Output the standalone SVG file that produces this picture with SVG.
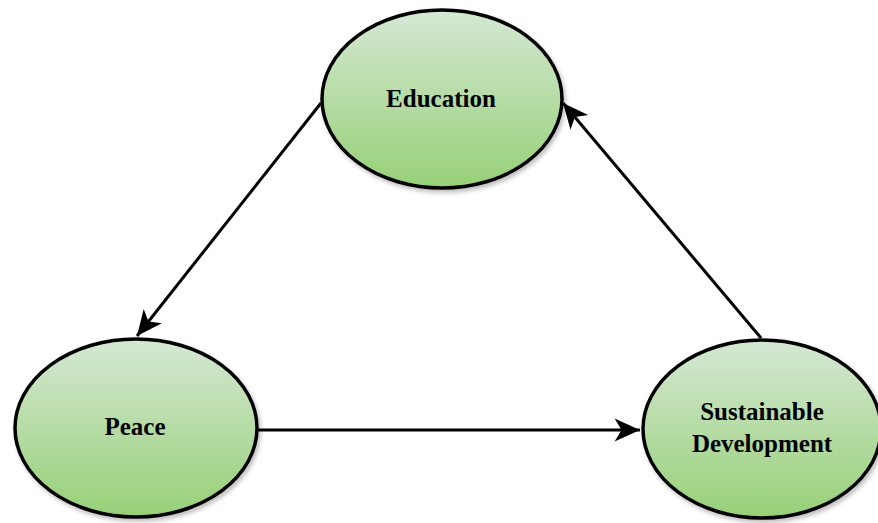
<svg xmlns="http://www.w3.org/2000/svg" width="878" height="523" viewBox="0 0 878 523">
<defs>
<linearGradient id="g" x1="0" y1="0" x2="0" y2="1">
<stop offset="0" stop-color="#d5e8d4"/>
<stop offset="1" stop-color="#97d077"/>
</linearGradient>
<marker id="arr" markerUnits="userSpaceOnUse" markerWidth="30" markerHeight="30" viewBox="-24 -12 26 24" refX="0" refY="0" orient="auto">
<path d="M0,0 L-22,-10 L-16,0 L-22,10 Z" fill="#000"/>
</marker>
<filter id="sh" x="-10%" y="-10%" width="130%" height="130%">
<feDropShadow dx="2" dy="3" stdDeviation="2" flood-color="#000" flood-opacity="0.25"/>
</filter>
</defs>
<style>
.node{fill:url(#g);stroke:#000;stroke-width:3.5;filter:url(#sh)}
.lbl{font-family:"Liberation Serif","Times New Roman",serif;font-weight:bold;font-size:25px;fill:#000;text-anchor:middle}
.edge{stroke:#000;stroke-width:3;fill:none;marker-end:url(#arr)}
</style>
<g id="connectors">
<path class="edge" d="M321,103 L137,336"/>
<path class="edge" d="M257,430 L640,430"/>
<path class="edge" d="M761,338 L563,103"/>
</g>
<g id="education">
<ellipse class="node" cx="442" cy="99" rx="120" ry="89"/>
<text class="lbl" x="441" y="107">Education</text>
</g>
<g id="peace">
<ellipse class="node" cx="136" cy="428" rx="121" ry="89"/>
<text class="lbl" x="135" y="435">Peace</text>
</g>
<g id="sustainable">
<ellipse class="node" cx="762" cy="429" rx="119" ry="89"/>
<text class="lbl" x="762" y="420">Sustainable</text>
<text class="lbl" x="762" y="452">Development</text>
</g>
</svg>
